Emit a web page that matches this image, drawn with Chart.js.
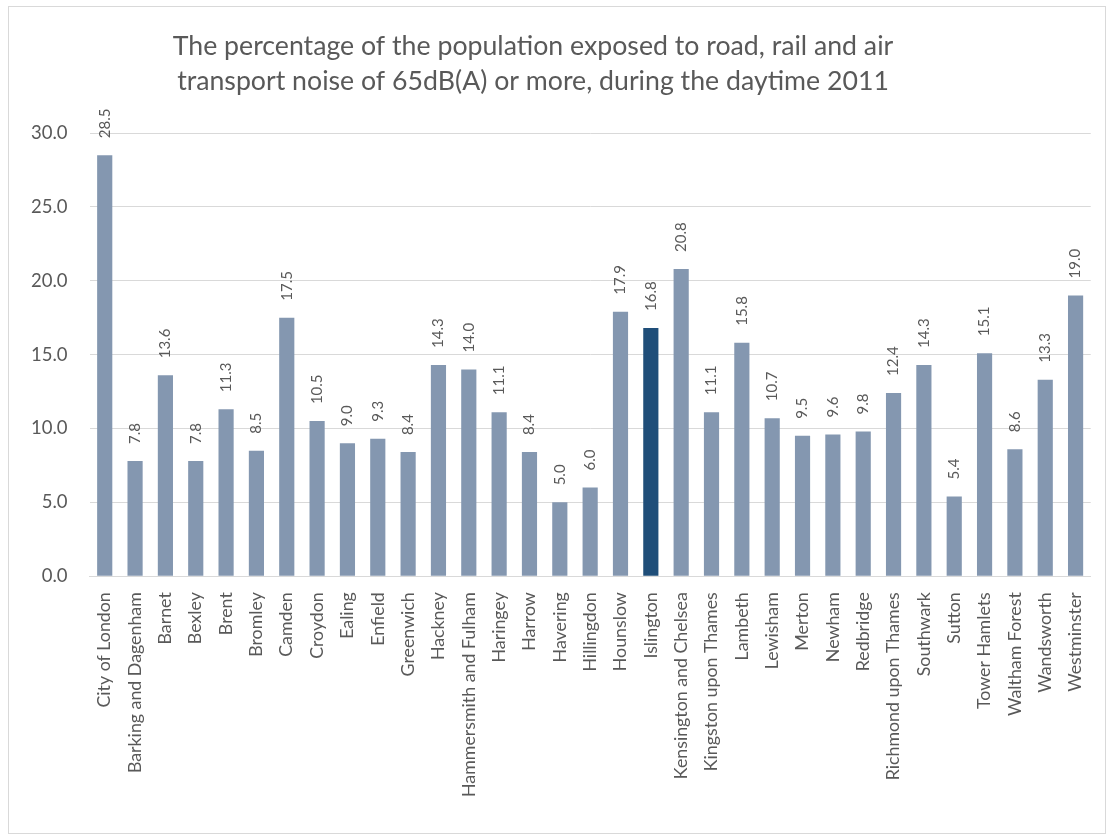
<!DOCTYPE html>
<html>
<head>
<meta charset="utf-8">
<script src="https://cdn.jsdelivr.net/npm/chart.js@4"></script>
<style>
  body { margin: 0; background: #fff; }
  #wrap { position: absolute; left: 8px; top: 6px; width: 1096px; height: 826px; border: 1px solid #d9d9d9; }
</style>
</head>
<body>
<div id="wrap"><canvas id="noiseChart"></canvas></div>
<script>
const boroughs = ['City of London', 'Barking and Dagenham', 'Barnet', 'Bexley', 'Brent', 'Bromley', 'Camden',
  'Croydon', 'Ealing', 'Enfield', 'Greenwich', 'Hackney', 'Hammersmith and Fulham', 'Haringey', 'Harrow',
  'Havering', 'Hillingdon', 'Hounslow', 'Islington', 'Kensington and Chelsea', 'Kingston upon Thames',
  'Lambeth', 'Lewisham', 'Merton', 'Newham', 'Redbridge', 'Richmond upon Thames', 'Southwark', 'Sutton',
  'Tower Hamlets', 'Waltham Forest', 'Wandsworth', 'Westminster'];
const noisePct = [28.5, 7.8, 13.6, 7.8, 11.3, 8.5, 17.5, 10.5, 9.0, 9.3, 8.4, 14.3, 14.0, 11.1, 8.4,
  5.0, 6.0, 17.9, 16.8, 20.8, 11.1, 15.8, 10.7, 9.5, 9.6, 9.8, 12.4, 14.3, 5.4, 15.1, 8.6, 13.3, 19.0];
const titleLines = ['The percentage of the population exposed to road, rail and air',
  'transport noise of 65dB(A) or more, during the daytime 2011'];
const highlight = 'Islington';

const FONT = 'Lato, "Open Sans", sans-serif';
const GREY = '#595959';

// title sits a little left of centre in the original, so draw it here
const chartTitle = {
  id: 'chartTitle',
  afterDraw(chart) {
    const ctx = chart.ctx;
    ctx.save();
    ctx.fillStyle = GREY;
    ctx.font = '26.7px ' + FONT;
    ctx.textAlign = 'center';
    ctx.textBaseline = 'middle';
    titleLines.forEach((line, i) => ctx.fillText(line, 524, 39 + i * 35));
    ctx.restore();
  }
};

// value labels written upright above each bar
const barLabels = {
  id: 'barLabels',
  afterDatasetsDraw(chart) {
    const ctx = chart.ctx;
    const meta = chart.getDatasetMeta(0);
    ctx.save();
    ctx.fillStyle = GREY;
    ctx.font = '15px ' + FONT;
    ctx.textAlign = 'left';
    ctx.textBaseline = 'middle';
    meta.data.forEach((bar, i) => {
      ctx.save();
      ctx.translate(bar.x, bar.y - 17);
      ctx.rotate(-Math.PI / 2);
      ctx.fillText(noisePct[i].toFixed(1), 0, 0);
      ctx.restore();
    });
    ctx.restore();
  }
};

new Chart(document.getElementById('noiseChart'), {
  type: 'bar',
  data: {
    labels: boroughs,
    datasets: [{
      data: noisePct,
      backgroundColor: boroughs.map(b => b === highlight ? '#1f4e79' : '#8497b0'),
      barPercentage: 0.5,
      categoryPercentage: 1.0
    }]
  },
  options: {
    responsive: true,
    maintainAspectRatio: false,
    animation: false,
    layout: { padding: { left: 0, right: 4, top: 126, bottom: 28 } },
    plugins: {
      legend: { display: false },
      tooltip: { enabled: false },
      title: { display: false }
    },
    scales: {
      y: {
        min: 0,
        max: 30,
        ticks: {
          stepSize: 5,
          color: GREY,
          padding: 22,
          font: { family: FONT, size: 18.5 },
          callback: v => v.toFixed(1)
        },
        grid: { color: '#d9d9d9', drawTicks: false },
        border: { display: false }
      },
      x: {
        ticks: {
          color: GREY,
          minRotation: 90,
          maxRotation: 90,
          autoSkip: false,
          padding: 8,
          font: { family: FONT, size: 17.8 }
        },
        grid: { display: false },
        border: { color: '#d9d9d9' }
      }
    }
  },
  plugins: [barLabels, chartTitle]
});
</script>
</body>
</html>
